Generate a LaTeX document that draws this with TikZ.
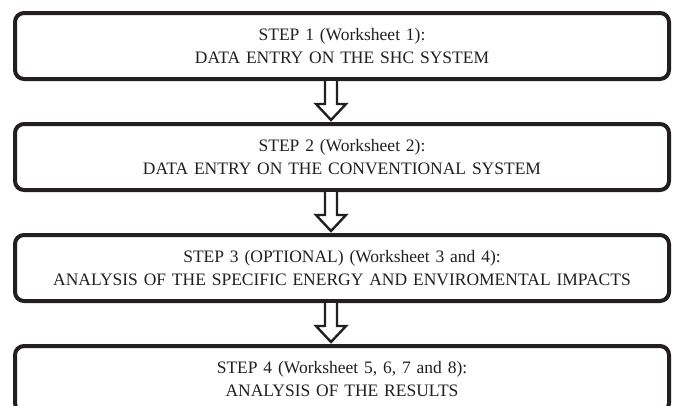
\documentclass[tikz,border=0pt]{standalone}
\usepackage{fontspec}
\setmainfont{Liberation Serif}
\usepackage{tikz}
\usetikzlibrary{positioning, calc}
\definecolor{mydark}{RGB}{35,31,32}
\tikzset{
  stepbox/.style={rectangle, draw=mydark, fill=white, text=mydark,
    minimum width=654pt, minimum height=66pt, text width=650pt,
    inner sep=0pt, align=center, font=\fontsize{17.5}{23}\selectfont,
    rounded corners=9pt, line width=4pt},
  hollow/.style={draw=mydark, fill=white, line width=2.4pt, line join=miter}
}

\begin{document}
\begin{tikzpicture}[x=1pt, y=1pt, node distance=41pt]
  \clip (0,0) rectangle (676,-405);
  \fill[white] (0,0) rectangle (676,-405);

  % Steps
  \node[stepbox] (s1) at (342,-46) {STEP 1 (Worksheet 1):\\DATA ENTRY ON THE SHC SYSTEM};
  \node[stepbox, below=of s1] (s2) {STEP 2 (Worksheet 2):\\DATA ENTRY ON THE CONVENTIONAL SYSTEM};
  \node[stepbox, below=of s2] (s3) {STEP 3 (OPTIONAL) (Worksheet 3 and 4):\\ANALYSIS OF THE SPECIFIC ENERGY AND ENVIROMENTAL IMPACTS};
  \node[stepbox, below=of s3] (s4) {STEP 4 (Worksheet 5, 6, 7 and 8):\\ANALYSIS OF THE RESULTS};

  % Hollow arrows between the steps
  \foreach \a/\b in {s1/s2, s2/s3, s3/s4}
    \draw[hollow] ($(\a.south)+(-17,0)$) -- ($(\b.north)+(-17,18)$) -- ++(-9,0)
      -- ($(\b.north)+(-11,2)$) -- ++(15,16) -- ++(-9,0) -- ($(\a.south)+(-5,0)$);
\end{tikzpicture}
\end{document}
